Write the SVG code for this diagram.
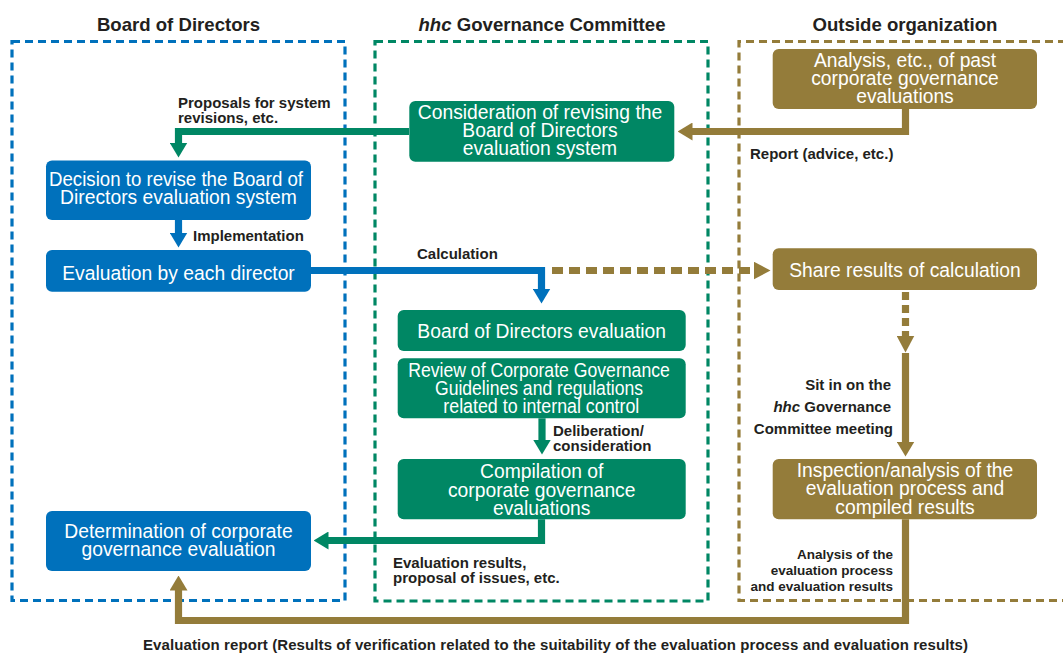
<svg xmlns="http://www.w3.org/2000/svg" width="1063" height="654" viewBox="0 0 1063 654">
<style>
.hdr{font-family:"Liberation Sans",Arial,sans-serif;font-weight:bold;font-size:18.6px;fill:#231f20;text-anchor:middle}
.nt{font-family:"Liberation Sans",Arial,sans-serif;font-size:19.3px;fill:#fff;text-anchor:middle}
.lb{font-family:"Liberation Sans",Arial,sans-serif;font-weight:bold;font-size:15px;fill:#231f20}
.ls{font-family:"Liberation Sans",Arial,sans-serif;font-weight:bold;font-size:13.5px;fill:#231f20;text-anchor:end}
.blue{fill:#0071bc}
.green{fill:#008764}
.gold{fill:#947c3a}
.frame{fill:none;stroke-width:3.2;stroke-dasharray:8 5}
.c{fill:none;stroke-width:7.2;stroke-linejoin:miter}
</style>
<defs>
<marker id="ab" viewBox="0 0 15 18" refX="0.5" refY="9" markerWidth="15" markerHeight="18" markerUnits="userSpaceOnUse" orient="auto"><path d="M0,0 L15,9 L0,18 Z" fill="#0071bc"/></marker>
<marker id="ag" viewBox="0 0 15 18" refX="0.5" refY="9" markerWidth="15" markerHeight="18" markerUnits="userSpaceOnUse" orient="auto"><path d="M0,0 L15,9 L0,18 Z" fill="#008764"/></marker>
<marker id="ao" viewBox="0 0 15 18" refX="0.5" refY="9" markerWidth="15" markerHeight="18" markerUnits="userSpaceOnUse" orient="auto"><path d="M0,0 L15,9 L0,18 Z" fill="#947c3a"/></marker>
<marker id="ao2" viewBox="0 0 17 18" refX="0.5" refY="9" markerWidth="17" markerHeight="18" markerUnits="userSpaceOnUse" orient="auto"><path d="M0,0 L17,9 L0,18 Z" fill="#947c3a"/></marker>
</defs>

<g id="frames">
<rect class="frame" x="12" y="41.5" width="333" height="559" stroke="#0071bc"/>
<rect class="frame" x="375" y="41.5" width="333" height="559.5" stroke="#008764"/>
<path class="frame" d="M1066,41.5 H739 V600.5 H1066" stroke="#947c3a"/>
</g>

<g id="headers">
<text class="hdr" x="178.5" y="30.5">Board of Directors</text>
<text class="hdr" x="542" y="30.5"><tspan font-style="italic">hhc</tspan> Governance Committee</text>
<text class="hdr" x="905" y="30.5">Outside organization</text>
</g>

<g id="connectors">
<path class="c" stroke="#008764" d="M409,131.5 H178.5 V143" marker-end="url(#ag)"/>
<path class="c" stroke="#947c3a" d="M905.5,109 V131.5 H692" marker-end="url(#ao)"/>
<path class="c" stroke="#0071bc" d="M178.5,220 V233" marker-end="url(#ab)"/>
<path class="c" stroke="#0071bc" d="M311,270.5 H541.5 V289" marker-end="url(#ab)"/>
<path class="c" stroke="#947c3a" stroke-dasharray="11 6" d="M552,270.5 H754" marker-end="url(#ao2)"/>
<path class="c" stroke="#947c3a" stroke-dasharray="8 5" d="M905.5,292 V336" marker-end="url(#ao2)"/>
<path class="c" stroke="#947c3a" d="M905.5,353 V442" marker-end="url(#ao)"/>
<path class="c" stroke="#008764" d="M542,418.3 V440" marker-end="url(#ag)"/>
<path class="c" stroke="#008764" d="M541.5,519.3 V540.5 H328" marker-end="url(#ag)"/>
<path class="c" stroke="#947c3a" d="M905.5,519.3 V620.5 H178.5 V590" marker-end="url(#ao)"/>
</g>

<g id="labels">
<text class="lb" x="178" y="108.3">Proposals for system<tspan x="178" dy="15">revisions, etc.</tspan></text>
<text class="lb" x="750" y="159">Report (advice, etc.)</text>
<text class="lb" x="193" y="241">Implementation</text>
<text class="lb" x="417" y="259">Calculation</text>
<text class="lb" x="891" y="390" text-anchor="end">Sit in on the<tspan x="891" dy="22"><tspan font-style="italic">hhc</tspan> Governance</tspan><tspan x="893" dy="21.5">Committee meeting</tspan></text>
<text class="lb" x="553" y="436">Deliberation/<tspan x="553" dy="14.7">consideration</tspan></text>
<text class="lb" x="393" y="568.3">Evaluation results,<tspan x="393" dy="15">proposal of issues, etc.</tspan></text>
<text class="ls" x="893" y="559.3">Analysis of the<tspan x="893" dy="15.7">evaluation process</tspan><tspan x="893" dy="15.7">and evaluation results</tspan></text>
<text class="lb" x="555.5" y="649.5" text-anchor="middle" textLength="825">Evaluation report (Results of verification related to the suitability of the evaluation process and evaluation results)</text>
</g>

<g id="n-decision">
<rect class="blue" x="46" y="160.5" width="265" height="59.5" rx="6"/>
<text class="nt" x="176" y="186"><tspan textLength="254" lengthAdjust="spacingAndGlyphs">Decision to revise the Board of</tspan><tspan x="178.5" dy="18.3">Directors evaluation system</tspan></text>
</g>
<g id="n-evaluation">
<rect class="blue" x="46" y="250" width="265" height="41.7" rx="6"/>
<text class="nt" x="178.5" y="280">Evaluation by each director</text>
</g>
<g id="n-determination">
<rect class="blue" x="46" y="511" width="265" height="60" rx="6"/>
<text class="nt" x="178.5" y="537.7">Determination of corporate<tspan x="178.5" dy="18.3">governance evaluation</tspan></text>
</g>
<g id="n-consideration">
<rect class="green" x="409.3" y="101" width="265" height="60.7" rx="6"/>
<text class="nt" x="540" y="119">Consideration of revising the<tspan x="540" dy="18">Board of Directors</tspan><tspan x="540" dy="18">evaluation system</tspan></text>
</g>
<g id="n-bod-eval">
<rect class="green" x="397.7" y="310" width="288" height="41" rx="6"/>
<text class="nt" x="541.7" y="337.7">Board of Directors evaluation</text>
</g>
<g id="n-review">
<rect class="green" x="397.7" y="358.3" width="288" height="60" rx="6"/>
<text class="nt" x="539" y="376.7"><tspan textLength="261.7" lengthAdjust="spacingAndGlyphs">Review of Corporate Governance</tspan><tspan x="539" dy="18.3" textLength="208" lengthAdjust="spacingAndGlyphs">Guidelines and regulations</tspan><tspan x="541.3" dy="18.3" textLength="196" lengthAdjust="spacingAndGlyphs">related to internal control</tspan></text>
</g>
<g id="n-compilation">
<rect class="green" x="397.7" y="459" width="288" height="60.3" rx="6"/>
<text class="nt" x="541.7" y="478.3">Compilation of<tspan x="541.7" dy="18.3">corporate governance</tspan><tspan x="541.7" dy="18.3">evaluations</tspan></text>
</g>
<g id="n-past">
<rect class="gold" x="772.7" y="49" width="264.3" height="60" rx="6"/>
<text class="nt" x="905" y="66.7">Analysis, etc., of past<tspan x="905" dy="18.3">corporate governance</tspan><tspan x="905" dy="18.3">evaluations</tspan></text>
</g>
<g id="n-share">
<rect class="gold" x="772.7" y="248.3" width="264.3" height="41.7" rx="6"/>
<text class="nt" x="905" y="277.3">Share results of calculation</text>
</g>
<g id="n-inspection">
<rect class="gold" x="772.7" y="459" width="264.3" height="60.3" rx="6"/>
<text class="nt" x="905" y="476.7">Inspection/analysis of the<tspan x="905" dy="18.3">evaluation process and</tspan><tspan x="905" dy="18.7">compiled results</tspan></text>
</g>
</svg>
